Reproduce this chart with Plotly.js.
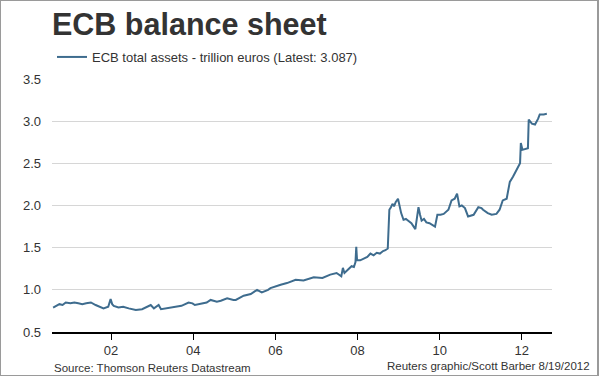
<!DOCTYPE html>
<html>
<head>
<meta charset="utf-8">
<script src="https://cdn.plot.ly/plotly-3.0.1.min.js"></script>
<style>
html,body{margin:0;padding:0;background:#fff;}
#wrap{position:relative;width:600px;height:376px;}
#chart{width:600px;height:376px;}
#frame{position:absolute;left:0;top:0;width:599px;height:376px;box-sizing:border-box;border:1px solid #9a9a9a;border-right:2px solid #9a9a9a;pointer-events:none;}
</style>
</head>
<body>
<div id="wrap"><div id="chart"></div><div id="frame"></div></div>
<script>
// ECB total assets, trillion euros
var dates = [
"2000-08-04","2000-09-01","2000-09-29","2000-10-27","2000-11-24","2001-01-05","2001-02-09","2001-03-16","2001-04-20","2001-05-25","2001-07-06",
"2001-08-17","2001-09-14","2001-10-26","2001-12-07","2001-12-28","2002-01-11","2002-01-25","2002-03-08",
"2002-04-19","2002-06-07","2002-08-09","2002-10-04","2002-11-29","2002-12-20","2003-01-17","2003-02-28",
"2003-03-21","2003-05-02","2003-06-27","2003-08-29","2003-09-19","2003-11-21","2003-12-26","2004-01-16",
"2004-03-05","2004-04-30","2004-06-04","2004-07-30","2004-09-03","2004-10-29","2004-12-24","2005-01-14",
"2005-03-25","2005-05-27","2005-07-22","2005-09-02","2005-10-28","2005-11-18","2006-02-17","2006-04-14",
"2006-06-30","2006-09-08","2006-12-08","2007-02-23","2007-05-04","2007-06-29","2007-08-10","2007-08-24",
"2007-09-07","2007-09-28","2007-10-19","2007-11-09","2007-11-30","2007-12-14","2007-12-21","2007-12-28","2008-01-25","2008-02-22","2008-03-28",
"2008-04-25","2008-05-23","2008-06-20","2008-07-18","2008-08-15","2008-09-05","2008-09-26","2008-10-10","2008-10-24","2008-11-07","2008-11-21",
"2008-12-05","2008-12-26","2009-01-09","2009-01-23","2009-02-13","2009-03-06","2009-03-27","2009-04-24","2009-05-29",
"2009-06-26","2009-07-10","2009-07-24","2009-08-14","2009-09-04","2009-10-02","2009-10-23","2009-11-20","2009-12-11","2010-01-08","2010-02-05",
"2010-03-19","2010-04-16","2010-05-14","2010-06-04","2010-06-25","2010-07-16","2010-08-13","2010-09-10","2010-10-29",
"2010-12-10","2011-01-07","2011-01-21","2011-03-04","2011-04-08","2011-05-20","2011-06-17","2011-07-15",
"2011-08-19","2011-09-16","2011-10-14","2011-11-18","2011-12-16","2011-12-23","2012-01-06","2012-02-24",
"2012-03-02","2012-03-30","2012-04-27","2012-05-25","2012-06-08","2012-07-13","2012-08-10"
];
var assets = [
0.79,0.81,0.83,0.82,0.85,0.84,0.85,0.84,0.83,0.84,0.85,
0.82,0.80,0.78,0.80,0.89,0.83,0.81,0.79,
0.80,0.78,0.76,0.77,0.81,0.82,0.78,0.82,
0.77,0.78,0.79,0.80,0.81,0.85,0.84,0.82,
0.83,0.85,0.88,0.86,0.87,0.90,0.88,0.88,
0.93,0.95,1.00,0.97,1.00,1.02,1.06,1.08,
1.12,1.11,1.15,1.14,1.18,1.20,1.16,1.26,
1.20,1.23,1.25,1.28,1.27,1.33,1.51,1.35,1.35,1.37,1.39,
1.43,1.41,1.44,1.43,1.46,1.47,1.49,1.95,1.98,2.02,1.99,
2.04,2.08,2.00,1.91,1.83,1.84,1.82,1.79,1.72,
1.98,1.89,1.82,1.84,1.80,1.79,1.77,1.75,1.89,1.89,1.90,
1.95,2.06,2.08,2.14,1.99,2.00,1.97,1.87,1.89,
1.98,1.97,1.95,1.91,1.89,1.90,1.95,2.06,
2.08,2.28,2.34,2.44,2.50,2.74,2.66,2.68,
3.02,2.97,2.96,3.03,3.08,3.08,3.087
];
var seriesName = "ECB total assets - trillion euros (Latest: 3.087)";
var chartTitle = "ECB balance sheet";
var sourceText = "Source: Thomson Reuters Datastream";
var creditText = "Reuters graphic/Scott Barber 8/19/2012";
var yTicks = [0.5,1.0,1.5,2.0,2.5,3.0,3.5];
var yTickText = ["0.5","1.0","1.5","2.0","2.5","3.0","3.5"];

var font = "Liberation Sans, Arial, sans-serif";
var trace = {
  x: dates, y: assets, type: "scatter", mode: "lines", name: seriesName,
  line: {color: "#3e6c8e", width: 2}
};
var layout = {
  width: 600, height: 376,
  margin: {l: 52, r: 48, t: 79, b: 44},
  paper_bgcolor: "#fff", plot_bgcolor: "#fff",
  font: {family: font, color: "#333", size: 12},
  title: {text: "<b>" + chartTitle + "</b>", x: 0, xref: "paper", xanchor: "left",
          y: 0.935, yref: "container", yanchor: "middle",
          font: {family: font, size: 30.5, color: "#333"}},
  showlegend: true,
  legend: {orientation: "h", x: 0, xanchor: "left", y: 1.087, yanchor: "middle",
           font: {family: font, size: 13, color: "#333"}, bgcolor: "rgba(0,0,0,0)"},
  xaxis: {type: "date", range: ["2000-07-25", "2012-09-25"], tick0: "2002-01-01", dtick: "M24",
          tickformat: "%y", ticks: "outside", ticklen: 6, tickcolor: "#000", tickwidth: 1,
          showline: true, linecolor: "#000", linewidth: 1.5, showgrid: false, zeroline: false,
          tickfont: {size: 13, color: "#333"}},
  yaxis: {range: [0.5, 3.5], tickvals: yTicks, ticktext: yTickText, showgrid: true,
          gridcolor: "#d6d6d6", gridwidth: 1, zeroline: false, showline: false, ticks: "",
          ticklabelstandoff: 10, tickfont: {size: 13, color: "#333"}},
  annotations: [
    {text: sourceText, xref: "paper", yref: "paper", x: 0, y: -0.11, xanchor: "left", yanchor: "top",
     showarrow: false, font: {family: font, size: 11.5, color: "#333"}},
    {text: creditText, xref: "paper", yref: "paper", x: 1.08, y: -0.102, xanchor: "right", yanchor: "top",
     showarrow: false, font: {family: font, size: 11.5, color: "#333"}}
  ]
};
Plotly.newPlot("chart", [trace], layout, {displayModeBar: false, staticPlot: true});
</script>
</body>
</html>
